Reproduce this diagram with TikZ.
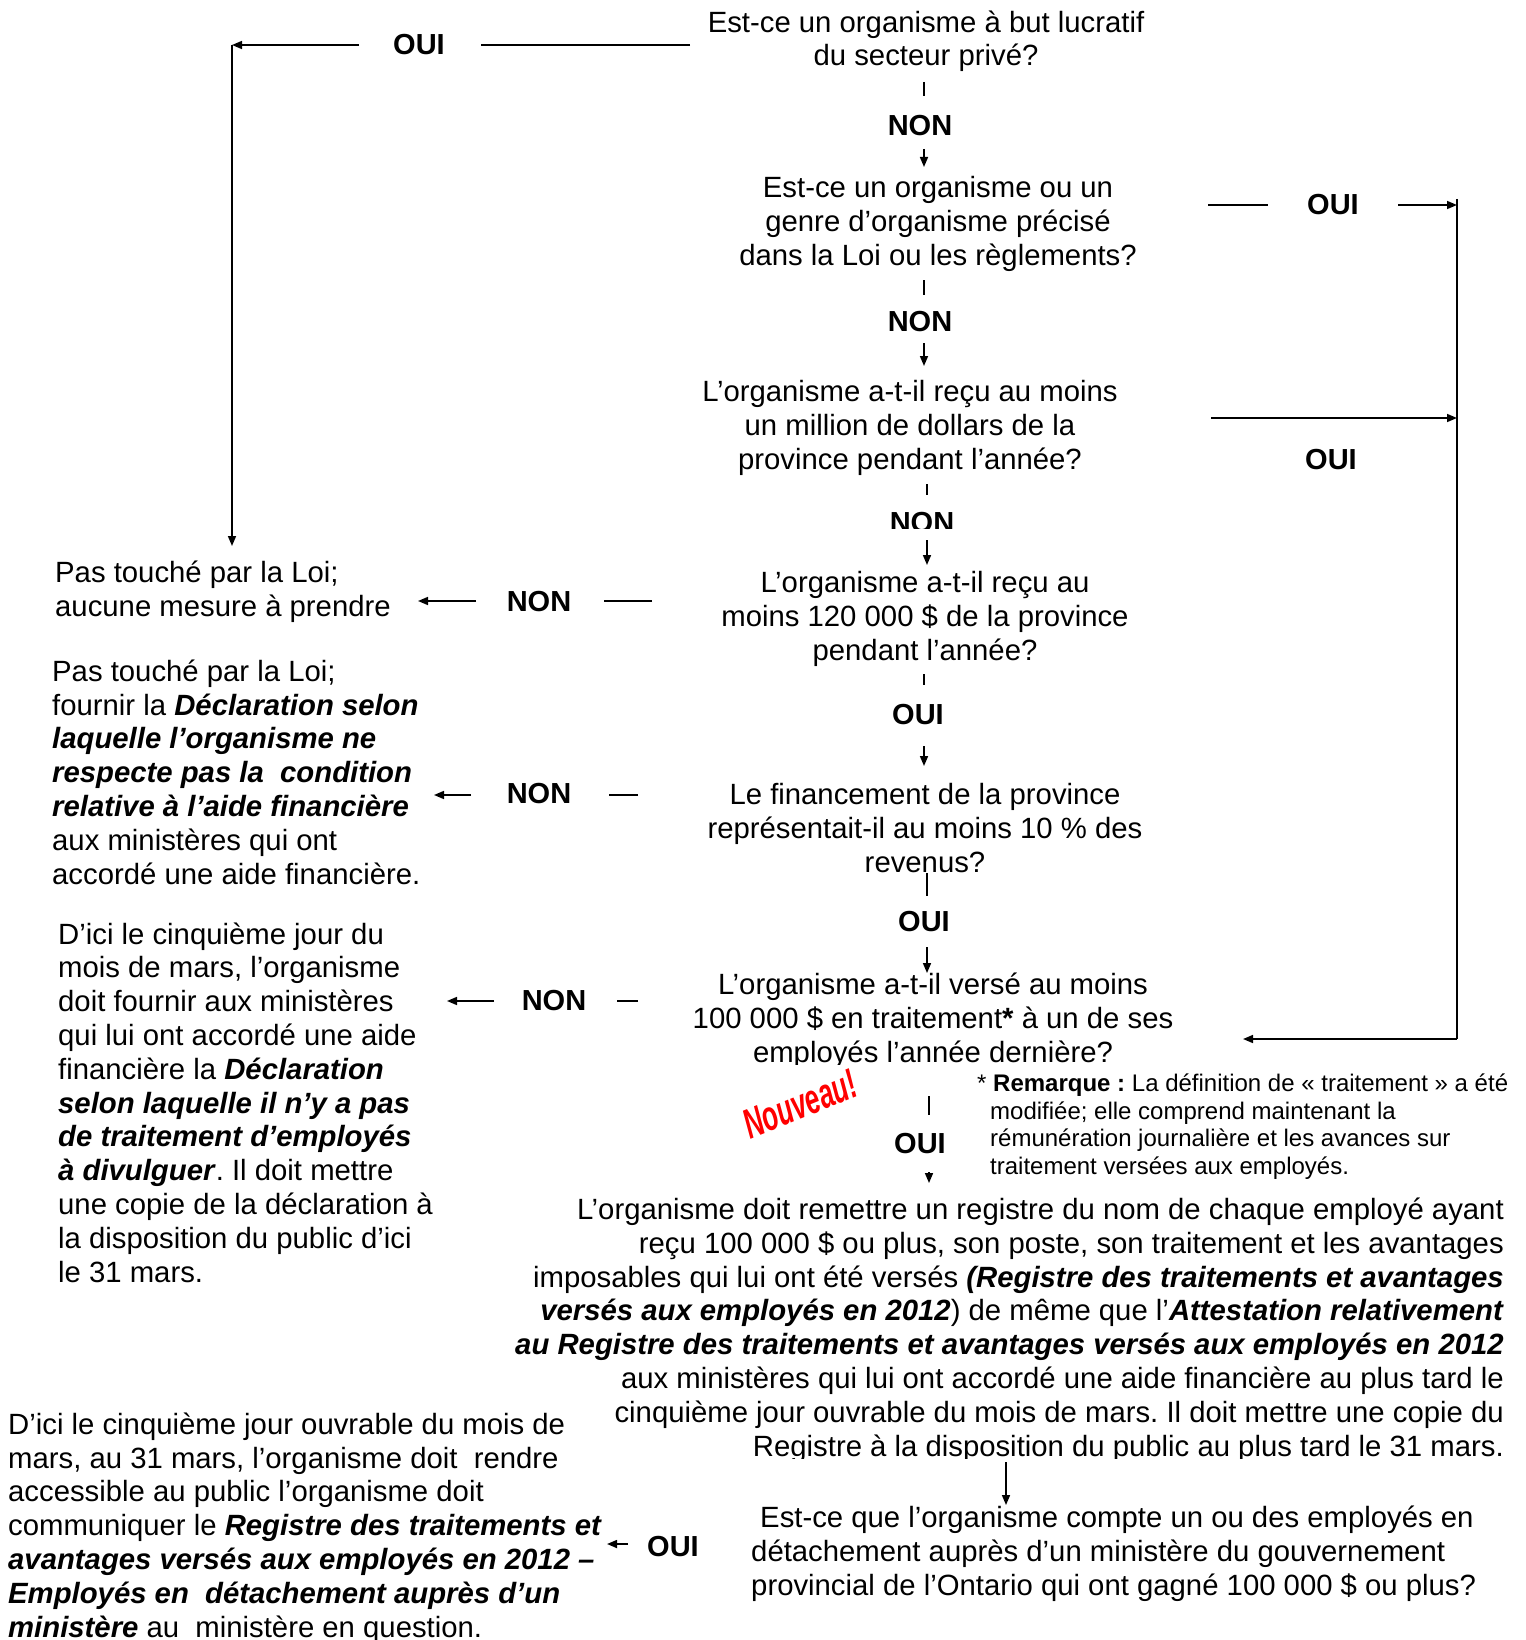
\documentclass[tikz,border=0pt]{standalone}
\usepackage{fontspec}
\setmainfont{Liberation Sans}
\newfontfamily\nouvfont{Liberation Sans}[FakeStretch=0.62]
\usetikzlibrary{arrows.meta}
\newcommand\bix[1]{\textbf{\textit{#1}}}
\frenchspacing
\begin{document}
\begin{tikzpicture}[x=1pt,y=-1pt,
  txt/.style={font=\fontsize{29.3}{33.8}\selectfont\frenchspacing, inner sep=0pt, anchor=base},
  ctxt/.style={txt, align=center},
  ltxt/.style={txt, align=left, anchor=base west},
  rtxt/.style={txt, align=right, anchor=base east},
  lbl/.style={font=\fontsize{29}{34}\selectfont\bfseries, inner sep=0pt},
  note/.style={font=\fontsize{24}{27.4}\selectfont, inner sep=0pt, align=left, anchor=base west},
  ln/.style={line width=1.6pt},
  arr/.style={ln, -{Triangle[length=10pt,width=8pt]}}]
\useasboundingbox[fill=white] (0,0) rectangle (1525,1640);

% questions (anchor = baseline of last line)
\node[ctxt] (q1) at (926,66) {Est-ce un organisme à but lucratif\\du secteur privé?};
\node[ctxt] (q2) at (938,265) {Est-ce un organisme ou un\\genre d’organisme précisé\\dans la Loi ou les règlements?};
\node[ctxt] (q3) at (910,469) {L’organisme a-t-il reçu au moins\\un million de dollars de la\\province pendant l’année?};
\node[ctxt] (q4) at (925,660) {L’organisme a-t-il reçu au\\moins 120 000 \$ de la province\\pendant l’année?};
\node[ctxt] (q5) at (925,872) {Le financement de la province\\représentait-il au moins 10 \% des\\revenus?};
\begin{scope}
\clip (600,940) rectangle (1240,1064);
\node[ctxt] (q6) at (933,1062) {L’organisme a-t-il versé au moins\\100 000 \$ en traitement\textbf{*} à un de ses\\employés l’année dernière?};
\end{scope}
\begin{scope}
\clip (480,1170) rectangle (1525,1458);
\node[rtxt] (reg) at (1504,1456) {L’organisme doit remettre un registre du nom de chaque employé ayant\\
reçu 100 000 \$ ou plus, son poste, son traitement et les avantages\\
imposables qui lui ont été versés \bix{(Registre des traitements et avantages}\\
\bix{versés aux employés en 2012}) de même que l’\bix{Attestation relativement}\\
\bix{au Registre des traitements et avantages versés aux employés en 2012}\\
aux ministères qui lui ont accordé une aide financière au plus tard le\\
cinquième jour ouvrable du mois de mars. Il doit mettre une copie du\\
Registre à la disposition du public au plus tard le 31 mars.};
\end{scope}
\node[ltxt] (q7) at (751,1595) {\hspace{9pt}Est-ce que l’organisme compte un ou des employés en\\détachement auprès d’un ministère du gouvernement\\provincial de l’Ontario qui ont gagné 100 000 \$ ou plus?};

% results
\node[ltxt] (r1) at (55,616) {Pas touché par la Loi;\\aucune mesure à prendre};
\node[ltxt] (r2) at (52,884) {Pas touché par la Loi;\\fournir la \bix{Déclaration selon}\\\bix{laquelle l’organisme ne}\\\bix{respecte pas la~ condition}\\\bix{relative à l’aide financière}\\aux ministères qui ont\\accordé une aide financière.};
\node[ltxt] (r3) at (58,1282) {D’ici le cinquième jour du\\mois de mars, l’organisme\\doit fournir aux ministères\\qui lui ont accordé une aide\\financière la \bix{Déclaration}\\\bix{selon laquelle il n’y a pas}\\\bix{de traitement d’employés}\\\bix{à divulguer}. Il doit mettre\\une copie de la déclaration à\\la disposition du public d’ici\\le 31 mars.};
\node[ltxt] (r4) at (8,1637) {D’ici le cinquième jour ouvrable du mois de\\mars, au 31 mars, l’organisme doit~ rendre\\accessible au public l’organisme doit\\communiquer le \bix{Registre des traitements et}\\\bix{avantages versés aux employés en 2012 –}\\\bix{Employés en~ détachement auprès d’un}\\\bix{ministère} au~ ministère en question.};

% note
\node[note] (rem) at (977,1174) {* \textbf{Remarque :} La définition de « traitement » a été\\\hspace{13pt}modifiée; elle comprend maintenant la\\\hspace{13pt}rémunération journalière et les avances sur\\\hspace{13pt}traitement versées aux employés.};
\node[text=red, font=\nouvfont\fontsize{42}{42}\selectfont\bfseries\itshape, rotate=22, inner sep=0pt] (nouv) at (800,1104) {Nouveau!};

% labels
\node[lbl] (oui1) at (419,45) {OUI};
\node[lbl] (non1) at (920,126) {NON};
\node[lbl] (oui2) at (1333,205) {OUI};
\node[lbl] (non2) at (920,322) {NON};
\node[lbl] (oui3) at (1331,460) {OUI};
\begin{scope}
\clip (880,500) rectangle (970,528);
\node[lbl] (non3) at (922,523) {NON};
\end{scope}
\node[lbl] (non4) at (539,602) {NON};
\node[lbl] (oui4) at (918,715) {OUI};
\node[lbl] (non5) at (539,794) {NON};
\node[lbl] (oui5) at (924,922) {OUI};
\node[lbl] (non6) at (554,1001) {NON};
\node[lbl] (oui6) at (920,1144) {OUI};
\node[lbl] (oui7) at (673,1546) {OUI};

% coordinates for connector ends
\coordinate (a1s) at (690,45);  \coordinate (a1e) at (481,45);
\coordinate (a1b) at (359,45);  \coordinate (c1) at (232,45);
\coordinate (c1d) at (232,546);
\coordinate (t1s) at (924,82);  \coordinate (t1e) at (924,96);
\coordinate (d1s) at (924,149); \coordinate (d1e) at (924,167);
\coordinate (a2s) at (1208,205); \coordinate (a2e) at (1268,205);
\coordinate (a2b) at (1398,205); \coordinate (rt) at (1457,205);
\coordinate (rtop) at (1457,199); \coordinate (rbot) at (1457,1039);
\coordinate (t2s) at (924,280); \coordinate (t2e) at (924,295);
\coordinate (d2s) at (924,343); \coordinate (d2e) at (924,366);
\coordinate (a3s) at (1211,418); \coordinate (a3e) at (1457,418);
\coordinate (t3s) at (927,484); \coordinate (t3e) at (927,495);
\coordinate (d3s) at (927,540); \coordinate (d3e) at (927,565);
\coordinate (a4s) at (652,601); \coordinate (a4e) at (604,601);
\coordinate (a4b) at (476,601); \coordinate (a4t) at (418,601);
\coordinate (t4s) at (924,674); \coordinate (t4e) at (924,685);
\coordinate (d4s) at (924,746); \coordinate (d4e) at (924,766);
\coordinate (a5s) at (638,795); \coordinate (a5e) at (609,795);
\coordinate (a5b) at (471,795); \coordinate (a5t) at (434,795);
\coordinate (t5s) at (927,873); \coordinate (t5e) at (927,896);
\coordinate (d5s) at (927,947); \coordinate (d5e) at (927,973);
\coordinate (a6s) at (638,1001); \coordinate (a6e) at (617,1001);
\coordinate (a6b) at (494,1001); \coordinate (a6t) at (447,1001);
\coordinate (b6) at (1243,1039);
\coordinate (t6s) at (929,1096); \coordinate (t6e) at (929,1115);
\coordinate (d6s) at (929,1172); \coordinate (d6e) at (929,1183);
\coordinate (d7s) at (1006,1462); \coordinate (d7e) at (1006,1505);
\coordinate (a7s) at (628,1544); \coordinate (a7t) at (607,1544);

% connectors
\draw[ln] (a1s) -- (a1e);
\draw[arr] (a1b) -- (c1);
\draw[arr] (c1) -- (c1d);
\draw[ln] (t1s) -- (t1e);
\draw[arr] (d1s) -- (d1e);
\draw[ln] (a2s) -- (a2e);
\draw[arr] (a2b) -- (rt);
\draw[ln] (rtop) -- (rbot);
\draw[arr] (rbot) -- (b6);
\draw[ln] (t2s) -- (t2e);
\draw[arr] (d2s) -- (d2e);
\draw[arr] (a3s) -- (a3e);
\draw[ln] (t3s) -- (t3e);
\draw[arr] (d3s) -- (d3e);
\draw[ln] (a4s) -- (a4e);
\draw[arr] (a4b) -- (a4t);
\draw[ln] (t4s) -- (t4e);
\draw[arr] (d4s) -- (d4e);
\draw[ln] (a5s) -- (a5e);
\draw[arr] (a5b) -- (a5t);
\draw[ln] (t5s) -- (t5e);
\draw[arr] (d5s) -- (d5e);
\draw[ln] (a6s) -- (a6e);
\draw[arr] (a6b) -- (a6t);
\draw[ln] (t6s) -- (t6e);
\draw[arr] (d6s) -- (d6e);
\draw[arr] (d7s) -- (d7e);
\draw[arr] (a7s) -- (a7t);
\end{tikzpicture}
\end{document}
